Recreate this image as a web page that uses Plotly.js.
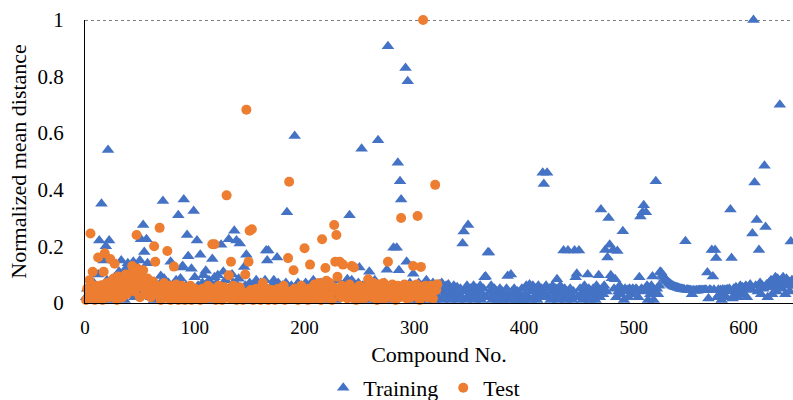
<!DOCTYPE html>
<html>
<head>
<meta charset="utf-8">
<script src="https://cdn.plot.ly/plotly-3.0.1.min.js"></script>
<style>
svg text { font-family: 'Liberation Serif' !important; }
</style>
</head>
<body style="margin:0;background:#fff">
<div id="chart"></div>
<script>
// Training series: normalized mean distance for compounds 1..645
const trainingValues = [
0.02,0.05,0.01,0.03,0.06,0.04,0.02,0.07,0.03,0.05,0.01,0.10,0.22,0.04,0.35,0.06,0.15,0.03,0.20,0.08,
0.54,0.22,0.05,0.01,0.07,0.03,0.09,0.02,0.06,0.04,0.11,0.02,0.15,0.05,0.08,0.01,0.12,0.04,0.14,0.06,
0.03,0.09,0.05,0.145,0.02,0.07,0.11,0.093,0.04,0.15,0.225,0.06,0.275,0.18,0.03,0.225,0.14,0.08,0.05,0.02,
0.062,0.04,0.01,0.07,0.03,0.05,0.02,0.06,0.095,0.04,0.36,0.086,0.03,0.05,0.02,0.07,0.04,0.145,0.01,0.06,
0.03,0.05,0.08,0.02,0.31,0.04,0.086,0.125,0.13,0.365,0.03,0.06,0.24,0.165,0.02,0.05,0.12,0.04,0.325,0.09,
0.03,0.22,0.06,0.01,0.17,0.04,0.07,0.097,0.02,0.113,0.05,0.03,0.08,0.06,0.01,0.155,0.04,0.09,0.02,0.07,
0.097,0.05,0.03,0.205,0.06,0.11,0.02,0.08,0.04,0.09,0.225,0.05,0.03,0.10,0.07,0.255,0.04,0.22,0.06,0.085,
0.21,0.03,0.05,0.02,0.127,0.06,0.17,0.04,0.01,0.07,0.03,0.05,0.02,0.06,0.04,0.08,0.01,0.05,0.03,0.07,
0.06,0.02,0.04,0.08,0.185,0.15,0.185,0.05,0.03,0.06,0.01,0.08,0.04,0.02,0.16,0.07,0.03,0.05,0.02,0.06,
0.04,0.01,0.07,0.32,0.03,0.05,0.02,0.06,0.04,0.01,0.59,0.05,0.03,0.07,0.02,0.04,0.06,0.01,0.05,0.03,
0.07,0.02,0.04,0.06,0.01,0.05,0.03,0.08,0.02,0.04,0.06,0.03,0.01,0.05,0.07,0.02,0.04,0.06,0.03,0.05,
0.01,0.04,0.07,0.02,0.05,0.03,0.06,0.01,0.04,0.08,0.02,0.05,0.03,0.06,0.04,0.02,0.07,0.05,0.083,0.03,
0.31,0.04,0.08,0.02,0.06,0.03,0.05,0.01,0.07,0.125,0.04,0.545,0.06,0.02,0.05,0.03,0.07,0.01,0.11,0.04,
0.06,0.02,0.05,0.08,0.03,0.01,0.575,0.04,0.06,0.02,0.05,0.03,0.07,0.04,0.117,0.907,0.02,0.06,0.04,0.01,
0.195,0.05,0.03,0.195,0.495,0.115,0.43,0.365,0.06,0.02,0.05,0.83,0.145,0.783,0.03,0.07,0.01,0.04,0.103,0.06,
0.02,0.05,0.03,0.07,0.01,0.04,0.06,0.02,0.05,0.03,0.08,0.01,0.04,0.06,0.02,0.05,0.07,0.03,0.01,0.04,
0.06,0.02,0.065,0.04,0.07,0.01,0.05,0.03,0.06,0.02,0.065,0.04,0.01,0.05,0.03,0.06,0.02,0.04,0.055,0.01,
0.03,0.05,0.02,0.21,0.252,0.04,0.01,0.06,0.275,0.03,0.05,0.02,0.04,0.06,0.01,0.03,0.05,0.02,0.04,0.06,
0.01,0.03,0.05,0.09,0.093,0.02,0.178,0.178,0.04,0.06,0.01,0.03,0.05,0.02,0.04,0.01,0.03,0.05,0.02,0.04,
0.01,0.03,0.02,0.05,0.095,0.03,0.01,0.10,0.04,0.02,0.05,0.03,0.01,0.04,0.02,0.03,0.01,0.05,0.02,0.01,
0.03,0.06,0.05,0.02,0.065,0.01,0.04,0.06,0.02,0.05,0.03,0.01,0.06,0.04,0.02,0.05,0.46,0.42,0.03,0.06,
0.46,0.02,0.05,0.01,0.04,0.06,0.02,0.03,0.05,0.083,0.01,0.04,0.06,0.02,0.03,0.185,0.05,0.01,0.04,0.185,
0.02,0.05,0.03,0.01,0.04,0.185,0.09,0.103,0.02,0.185,0.05,0.03,0.01,0.04,0.06,0.02,0.03,0.10,0.05,0.01,
0.04,0.02,0.05,0.03,0.01,0.06,0.04,0.097,0.02,0.33,0.05,0.03,0.06,0.187,0.04,0.16,0.30,0.205,0.097,0.087,
0.187,0.05,0.083,0.02,0.183,0.04,0.06,0.03,0.045,0.253,0.01,0.05,0.04,0.045,0.02,0.05,0.045,0.03,0.05,0.045,
0.04,0.05,0.045,0.02,0.09,0.305,0.05,0.32,0.345,0.04,0.32,0.06,0.01,0.05,0.03,0.06,0.093,0.01,0.04,0.43,
0.05,0.03,0.06,0.11,0.107,0.098,0.092,0.086,0.081,0.077,0.074,0.07,0.067,0.064,0.061,0.059,0.057,0.056,0.055,0.053,
0.052,0.051,0.05,0.049,0.048,0.047,0.218,0.046,0.046,0.045,0.045,0.044,0.03,0.044,0.043,0.043,0.044,0.043,0.044,0.045,
0.044,0.045,0.044,0.045,0.046,0.045,0.107,0.015,0.046,0.045,0.187,0.093,0.046,0.187,0.158,0.02,0.046,0.03,0.045,0.01,
0.047,0.03,0.046,0.02,0.048,0.04,0.05,0.33,0.158,0.015,0.05,0.03,0.055,0.045,0.02,0.05,0.06,0.04,0.055,0.03,
0.05,0.06,0.02,0.055,0.045,0.065,0.05,0.245,1.0,0.425,0.06,0.293,0.04,0.187,0.07,0.03,0.06,0.05,0.485,0.268,
0.065,0.02,0.07,0.055,0.08,0.03,0.075,0.06,0.09,0.04,0.085,0.065,0.70,0.08,0.05,0.09,0.07,0.03,0.085,0.06,
0.075,0.04,0.217,0.08,0.06
];

// Test series: normalized mean distance for compounds 1..321
const testValues = [
0.01,0.05,0.02,0.08,0.245,0.025,0.11,0.04,0.01,0.06,0.03,0.16,0.02,0.05,0.062,0.01,0.11,0.175,0.04,0.07,
0.045,0.02,0.155,0.06,0.03,0.086,0.138,0.059,0.01,0.093,0.07,0.04,0.08,0.02,0.08,0.06,0.10,0.03,0.075,0.05,
0.097,0.065,0.13,0.115,0.04,0.09,0.24,0.12,0.07,0.02,0.10,0.055,0.115,0.08,0.03,0.065,0.086,0.04,0.07,0.02,
0.05,0.075,0.20,0.145,0.06,0.03,0.045,0.265,0.01,0.055,0.035,0.07,0.02,0.045,0.183,0.03,0.06,0.01,0.04,0.05,
0.128,0.02,0.065,0.035,0.01,0.05,0.03,0.06,0.02,0.04,0.01,0.035,0.05,0.02,0.03,0.06,0.01,0.04,0.025,0.05,
0.015,0.035,0.02,0.045,0.01,0.03,0.05,0.02,0.04,0.015,0.03,0.06,0.045,0.02,0.035,0.207,0.05,0.207,0.01,0.04,
0.03,0.06,0.02,0.045,0.01,0.035,0.055,0.02,0.38,0.04,0.097,0.015,0.145,0.03,0.06,0.02,0.045,0.01,0.035,0.05,
0.055,0.02,0.04,0.01,0.03,0.10,0.683,0.02,0.145,0.255,0.045,0.26,0.01,0.035,0.02,0.05,0.015,0.03,0.045,0.01,
0.025,0.07,0.04,0.015,0.03,0.05,0.01,0.035,0.02,0.045,0.015,0.03,0.01,0.04,0.02,0.05,0.03,0.015,0.045,0.025,
0.06,0.01,0.035,0.02,0.158,0.428,0.04,0.015,0.03,0.115,0.05,0.02,0.035,0.01,0.045,0.03,0.06,0.015,0.04,0.193,
0.02,0.035,0.01,0.05,0.135,0.025,0.04,0.015,0.065,0.03,0.05,0.02,0.07,0.04,0.01,0.225,0.035,0.06,0.123,0.078,
0.02,0.045,0.07,0.03,0.01,0.055,0.275,0.145,0.24,0.092,0.04,0.145,0.02,0.06,0.135,0.03,0.05,0.055,0.015,0.04,
0.065,0.02,0.13,0.035,0.125,0.05,0.01,0.045,0.03,0.06,0.02,0.04,0.055,0.015,0.035,0.05,0.025,0.083,0.04,0.06,
0.02,0.045,0.07,0.03,0.05,0.01,0.04,0.065,0.025,0.055,0.035,0.07,0.015,0.045,0.06,0.145,0.03,0.05,0.02,0.065,
0.04,0.055,0.01,0.035,0.06,0.045,0.02,0.30,0.05,0.03,0.065,0.04,0.015,0.055,0.035,0.06,0.02,0.045,0.13,0.03,
0.05,0.065,0.307,0.04,0.01,0.127,0.055,1.0,0.03,0.06,0.045,0.02,0.05,0.035,0.06,0.04,0.015,0.055,0.417,0.045,
0.066
];

const xTickVals = [0, 100, 200, 300, 400, 500, 600];
const yTickVals = [0, 0.2, 0.4, 0.6, 0.8, 1];
const seriesNames = ['Training', 'Test'];

const trainingX = trainingValues.map((v, i) => i + 1);
const testX = testValues.map((v, i) => i + 1);

const SERIF = 'Liberation Serif';

const data = [
  {x: trainingX, y: trainingValues, name: seriesNames[0], type: 'scatter', mode: 'markers', cliponaxis: false,
   marker: {symbol: 'triangle-up', size: 11, color: '#4472C4'}},
  {x: testX, y: testValues, name: seriesNames[1], type: 'scatter', mode: 'markers', cliponaxis: false,
   marker: {symbol: 'circle', size: 10, color: '#ED7D31'}}
];

const layout = {
  width: 793, height: 400,
  margin: {l: 85, r: 0, t: 20, b: 90},
  paper_bgcolor: '#ffffff', plot_bgcolor: '#ffffff',
  font: {family: SERIF, size: 22, color: '#000000'},
  showlegend: true,
  legend: {orientation: 'h', xref: 'container', x: 0.535, xanchor: 'center',
           yref: 'container', y: 0.03, yanchor: 'middle',
           font: {family: SERIF, size: 22, color: '#000000'}},
  xaxis: {range: [0, 645], tickvals: xTickVals, showgrid: false, zeroline: false, showline: true,
          automargin: true,
          linecolor: '#000000', linewidth: 1, ticks: '', ticklabelstandoff: 7,
          tickfont: {family: SERIF, size: 19, color: '#000000'},
          title: {text: 'Compound No.', standoff: 14, font: {family: SERIF, size: 22, color: '#000000'}}},
  yaxis: {range: [0, 1], tickvals: yTickVals, showgrid: false, zeroline: false, showline: true,
          automargin: false,
          linecolor: '#000000', linewidth: 1, ticks: '', ticklabelstandoff: 16,
          tickfont: {family: SERIF, size: 21, color: '#000000'},
          title: {text: 'Normalized mean distance', standoff: 4, font: {family: SERIF, size: 22, color: '#000000'}}},
  shapes: [{type: 'line', xref: 'paper', yref: 'y', x0: 0, x1: 1, y0: 1, y1: 1,
            line: {color: '#000000', width: 1, dash: 'dot'}, layer: 'below'}]
};

Plotly.newPlot('chart', data, layout, {displayModeBar: false});
</script>
</body>
</html>
